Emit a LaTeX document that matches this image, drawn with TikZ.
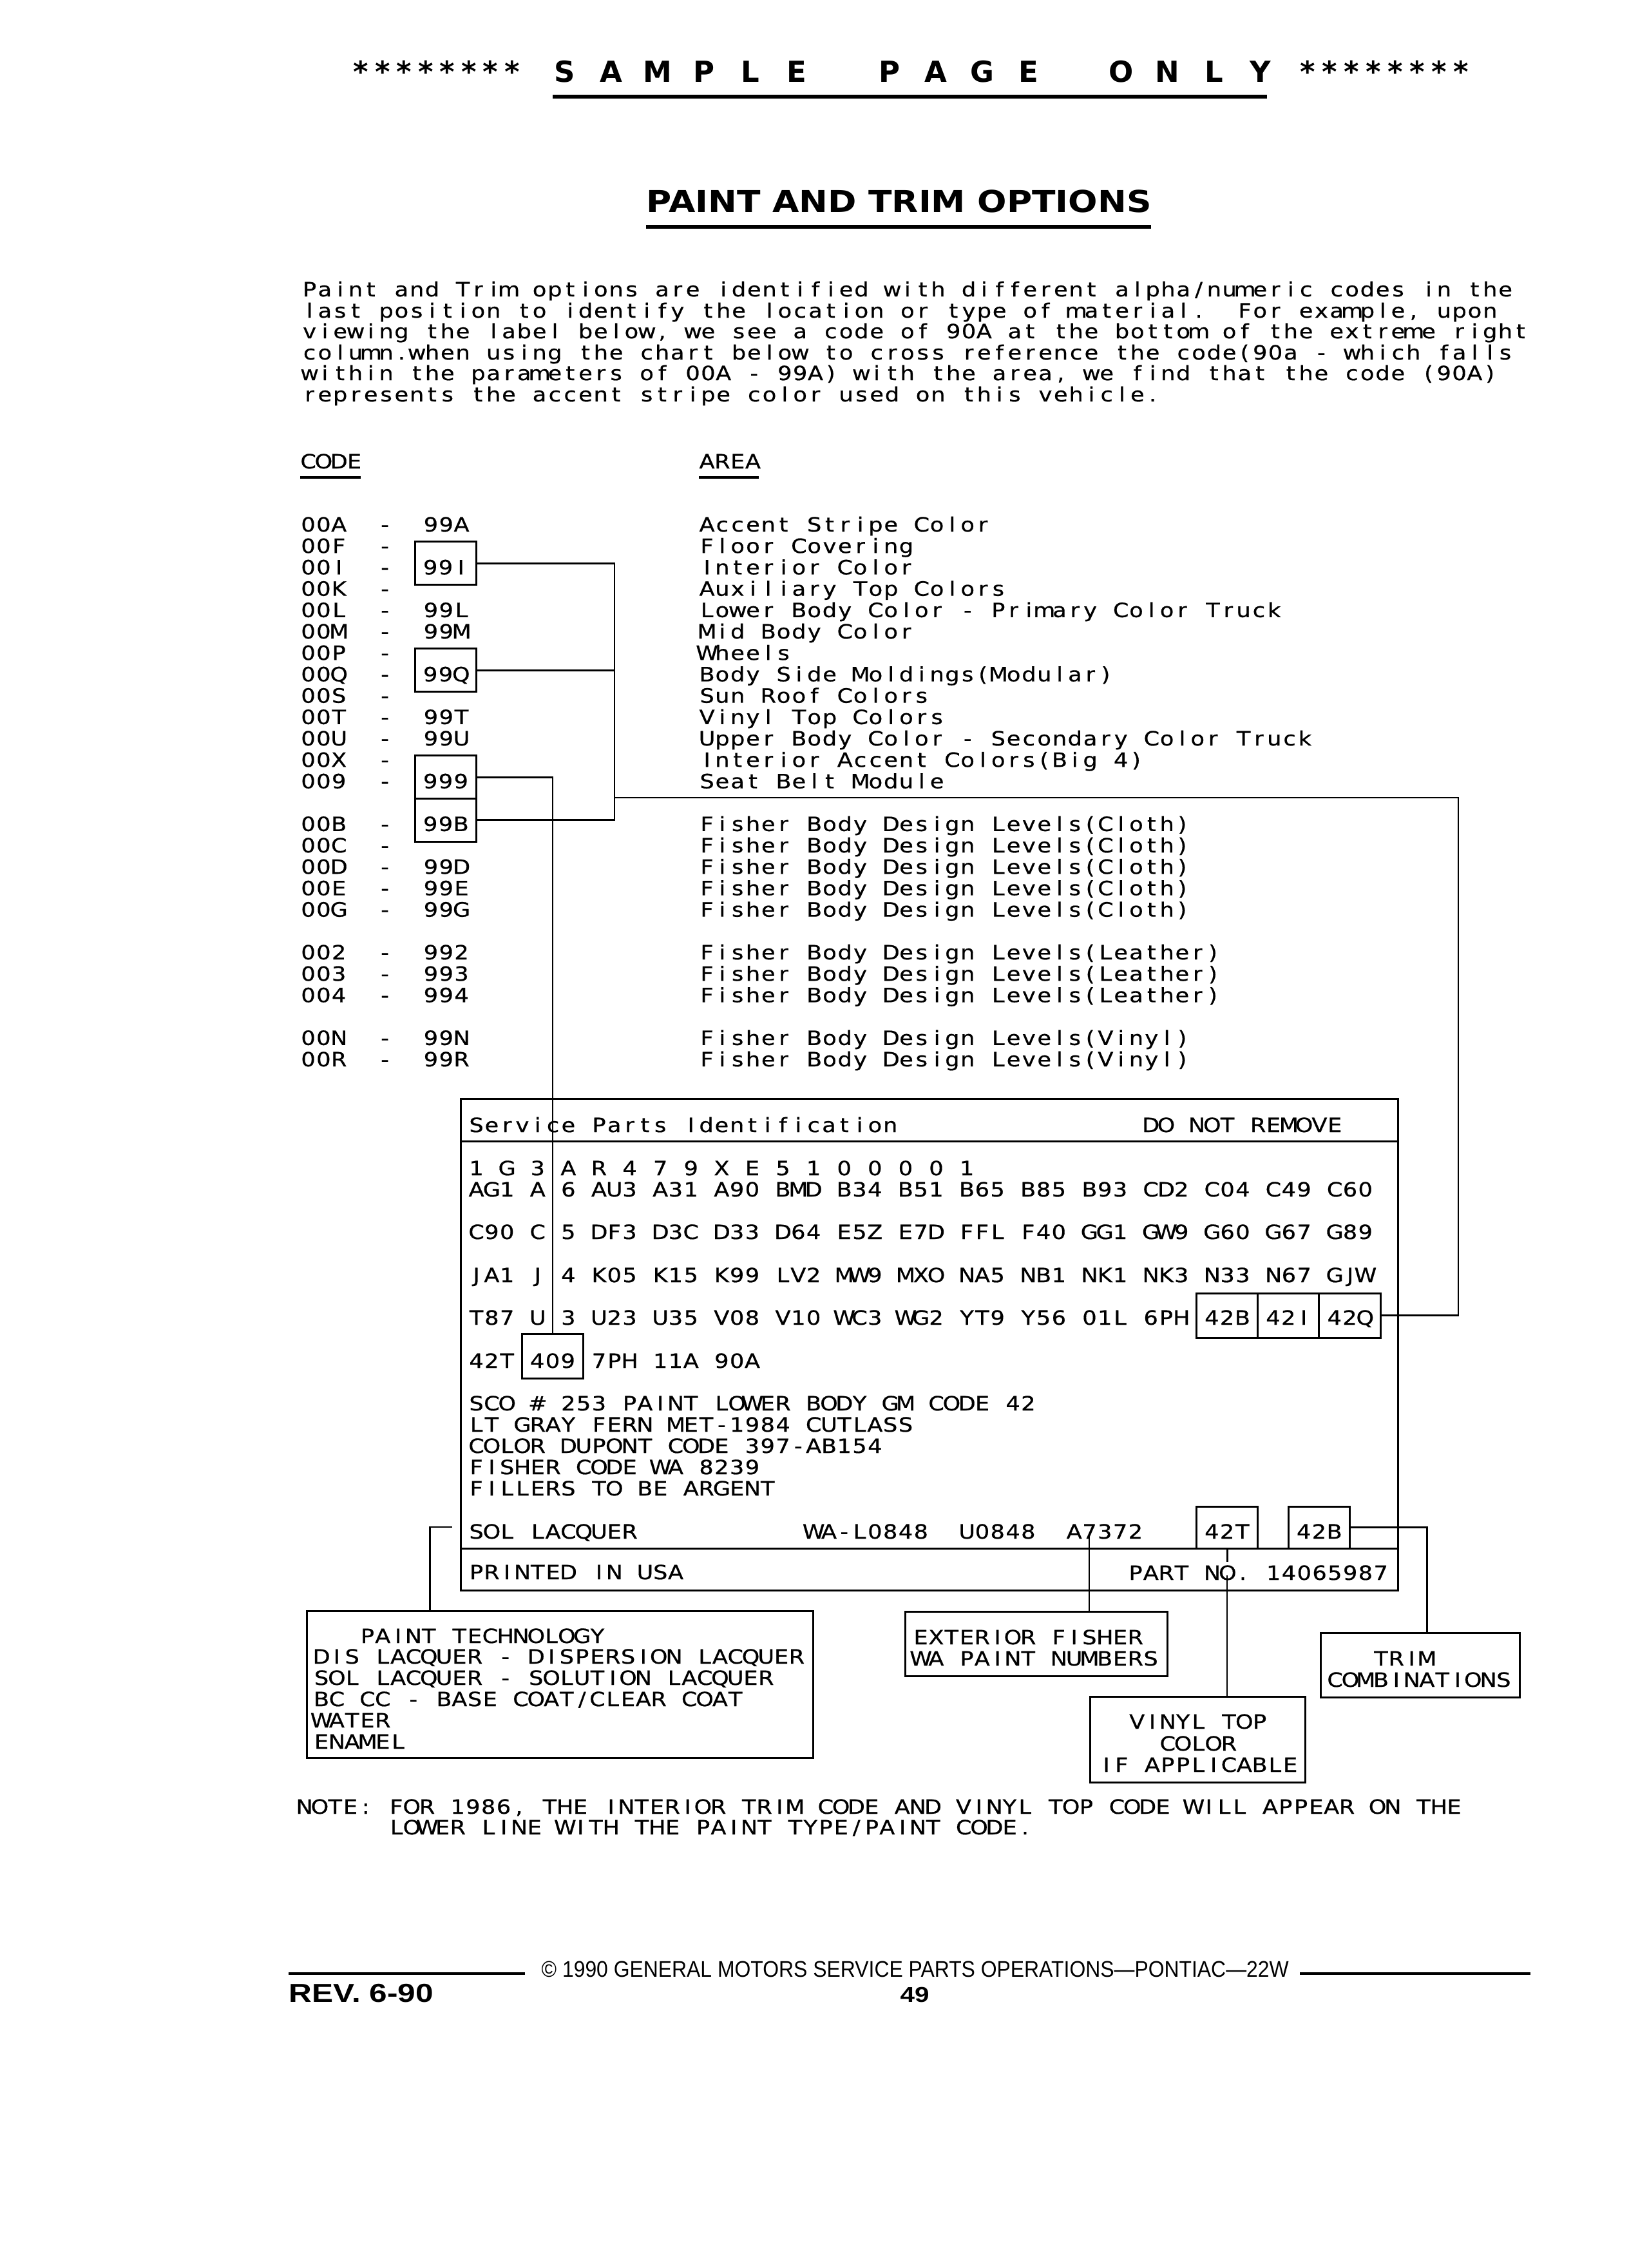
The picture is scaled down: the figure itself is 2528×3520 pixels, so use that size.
\documentclass[tikz,border=0pt]{standalone}
\usepackage{fontspec}
\usepackage{graphicx}
\setmainfont{DejaVu Sans}
\newfontfamily\dvs{DejaVu Sans}[FakeStretch=1.15,FakeBold=0.6]
\newfontfamily\dvsb{DejaVu Sans}
\newfontfamily\lsans{Liberation Sans}
\newcommand\bodyf{\dvs\fontsize{8.7pt}{9.8pt}\selectfont}
\newcommand\headf{\dvsb\bfseries\fontsize{12.8pt}{14pt}\selectfont}
\newcommand\titlef{\dvsb\bfseries\fontsize{13.3pt}{15pt}\selectfont}
\newcommand\footf{\lsans\fontsize{10pt}{12pt}\selectfont}
\newcommand\revf{\lsans\bfseries\fontsize{11.5pt}{13pt}\selectfont}
\newcommand\pgf{\lsans\bfseries\fontsize{9.5pt}{11pt}\selectfont}
\ExplSyntaxOn
\dim_new:N \l__rk_pitch_dim
\NewDocumentCommand \gridtext { O{2.38mm} m }
  {
    \dim_set:Nn \l__rk_pitch_dim {#1}
    \str_map_inline:nn {#2}
      {
        \str_case:nnF {##1}
          {
            {_} { \hspace*{\l__rk_pitch_dim} }
            {@} { \makebox[\l__rk_pitch_dim][c]{\#} }
          }
          { \makebox[\l__rk_pitch_dim][c]{##1} }
      }
  }
\ExplSyntaxOff
\begin{document}
\begin{tikzpicture}[x=0.1mm, y=-0.1mm,
  txt/.style={anchor=base west, inner sep=0pt, font=\bodyf},
  bigtxt/.style={anchor=base west, inner sep=0pt},
  cbox/.style={draw, line width=0.3mm, inner sep=0pt, minimum width=9.52mm, anchor=base, font=\bodyf},
  frame/.style={draw, line width=0.3mm, inner sep=0pt, anchor=north west},
  conn/.style={line width=0.28mm}]
\fill[white] (0,0) rectangle (2528,3520);
\useasboundingbox (0,0) rectangle (2528,3520);

% ---------- header ----------
\node[bigtxt] (s1) at (543,127) {\headf\gridtext[3.35mm]{********}};
\node[bigtxt] (s2) at (858,127) {\headf\gridtext[3.6mm]{S A M P L E___P A G E___O N L Y}};
\node[bigtxt] (s3) at (2013,127) {\headf\gridtext[3.39mm]{********}};
\draw[line width=0.6mm] (858,150) -- (1967,150);
\node[bigtxt] (title) at (1003,329) {\titlef\resizebox{78.4mm}{\height}{PAINT AND TRIM OPTIONS}};
\draw[line width=0.65mm] (1003,352) -- (1787,352);

% ---------- paragraph ----------
\node[txt] (p1) at (468,460) {\gridtext{Paint and Trim options are identified with different alpha/numeric codes in the}};
\node[txt] (p2) at (468,493) {\gridtext{last position to identify the location or type of material.__For example, upon}};
\node[txt] (p3) at (468,525) {\gridtext{viewing the label below, we see a code of 90A at the bottom of the extreme right}};
\node[txt] (p4) at (468,558) {\gridtext{column.when using the chart below to cross reference the code(90a - which falls}};
\node[txt] (p5) at (468,590) {\gridtext{within the parameters of 00A - 99A) with the area, we find that the code (90A)}};
\node[txt] (p6) at (468,623) {\gridtext{represents the accent stripe color used on this vehicle.}};

% ---------- column heads ----------
\node[txt] (code) at (466,727) {\gridtext{CODE}};
\node[txt] (area) at (1085,727) {\gridtext{AREA}};
\draw[line width=0.4mm] (466,741) -- (560,741);
\draw[line width=0.45mm] (1085,741) -- (1178,741);

% ---------- code rows ----------
\node[txt] (c0) at (466,825) {\gridtext{00A__-__99A}};
\node[txt] (c1) at (466,858.2) {\gridtext{00F__-}};
\node[txt] (c2) at (466,891.4) {\gridtext{00I__-}};
\node[txt] (c3) at (466,924.6) {\gridtext{00K__-}};
\node[txt] (c4) at (466,957.8) {\gridtext{00L__-__99L}};
\node[txt] (c5) at (466,991.0) {\gridtext{00M__-__99M}};
\node[txt] (c6) at (466,1024.2) {\gridtext{00P__-}};
\node[txt] (c7) at (466,1057.4) {\gridtext{00Q__-}};
\node[txt] (c8) at (466,1090.6) {\gridtext{00S__-}};
\node[txt] (c9) at (466,1123.8) {\gridtext{00T__-__99T}};
\node[txt] (c10) at (466,1157.0) {\gridtext{00U__-__99U}};
\node[txt] (c11) at (466,1190.2) {\gridtext{00X__-}};
\node[txt] (c12) at (466,1223.4) {\gridtext{009__-}};
\node[txt] (c14) at (466,1289.8) {\gridtext{00B__-}};
\node[txt] (c15) at (466,1323.0) {\gridtext{00C__-}};
\node[txt] (c16) at (466,1356.2) {\gridtext{00D__-__99D}};
\node[txt] (c17) at (466,1389.4) {\gridtext{00E__-__99E}};
\node[txt] (c18) at (466,1422.6) {\gridtext{00G__-__99G}};
\node[txt] (c20) at (466,1489.0) {\gridtext{002__-__992}};
\node[txt] (c21) at (466,1522.2) {\gridtext{003__-__993}};
\node[txt] (c22) at (466,1555.4) {\gridtext{004__-__994}};
\node[txt] (c24) at (466,1621.8) {\gridtext{00N__-__99N}};
\node[txt] (c25) at (466,1655.0) {\gridtext{00R__-__99R}};

\node[cbox, text height=5.05mm, text depth=1.65mm] (b99I) at (692,891.4) {\gridtext{99I}};
\node[cbox, text height=5.05mm, text depth=1.65mm] (b99Q) at (692,1057.4) {\gridtext{99Q}};
\node[cbox, text height=5.05mm, text depth=1.65mm] (b999) at (692,1223.4) {\gridtext{999}};
\node[cbox, text height=5.05mm, text depth=1.65mm] (b99B) at (692,1289.8) {\gridtext{99B}};

% ---------- area rows ----------
\node[txt] (a0) at (1085,825) {\gridtext{Accent Stripe Color}};
\node[txt] (a1) at (1085,858.2) {\gridtext{Floor Covering}};
\node[txt] (a2) at (1085,891.4) {\gridtext{Interior Color}};
\node[txt] (a3) at (1085,924.6) {\gridtext{Auxiliary Top Colors}};
\node[txt] (a4) at (1085,957.8) {\gridtext{Lower Body Color - Primary Color Truck}};
\node[txt] (a5) at (1085,991.0) {\gridtext{Mid Body Color}};
\node[txt] (a6) at (1085,1024.2) {\gridtext{Wheels}};
\node[txt] (a7) at (1085,1057.4) {\gridtext{Body Side Moldings(Modular)}};
\node[txt] (a8) at (1085,1090.6) {\gridtext{Sun Roof Colors}};
\node[txt] (a9) at (1085,1123.8) {\gridtext{Vinyl Top Colors}};
\node[txt] (a10) at (1085,1157.0) {\gridtext{Upper Body Color - Secondary Color Truck}};
\node[txt] (a11) at (1085,1190.2) {\gridtext{Interior Accent Colors(Big 4)}};
\node[txt] (a12) at (1085,1223.4) {\gridtext{Seat Belt Module}};
\node[txt] (a14) at (1085,1289.8) {\gridtext{Fisher Body Design Levels(Cloth)}};
\node[txt] (a15) at (1085,1323.0) {\gridtext{Fisher Body Design Levels(Cloth)}};
\node[txt] (a16) at (1085,1356.2) {\gridtext{Fisher Body Design Levels(Cloth)}};
\node[txt] (a17) at (1085,1389.4) {\gridtext{Fisher Body Design Levels(Cloth)}};
\node[txt] (a18) at (1085,1422.6) {\gridtext{Fisher Body Design Levels(Cloth)}};
\node[txt] (a20) at (1085,1489.0) {\gridtext{Fisher Body Design Levels(Leather)}};
\node[txt] (a21) at (1085,1522.2) {\gridtext{Fisher Body Design Levels(Leather)}};
\node[txt] (a22) at (1085,1555.4) {\gridtext{Fisher Body Design Levels(Leather)}};
\node[txt] (a24) at (1085,1621.8) {\gridtext{Fisher Body Design Levels(Vinyl)}};
\node[txt] (a25) at (1085,1655.0) {\gridtext{Fisher Body Design Levels(Vinyl)}};

% ---------- label ----------
\node[frame, minimum width=145.5mm, minimum height=76.3mm] (label) at (714,1704) {};
\draw[line width=0.3mm] (714,1771) -- (2169,1771);
\draw[line width=0.3mm] (714,2403) -- (2169,2403);
\node[txt] (lh1) at (727,1757) {\gridtext{Service Parts Identification}};
\node[txt] (lh2) at (1774,1757) {\gridtext{DO NOT REMOVE}};
\node[txt] (r1) at (727,1824) {\gridtext{1 G 3 A R 4 7 9 X E 5 1 0 0 0 0 1}};
\node[txt] (r2) at (727,1857) {\gridtext{AG1 A 6 AU3 A31 A90 BMD B34 B51 B65 B85 B93 CD2 C04 C49 C60}};
\node[txt] (r3) at (727,1923) {\gridtext{C90 C 5 DF3 D3C D33 D64 E5Z E7D FFL F40 GG1 GW9 G60 G67 G89}};
\node[txt] (r4) at (727,1990) {\gridtext{JA1 J 4 K05 K15 K99 LV2 MW9 MXO NA5 NB1 NK1 NK3 N33 N67 GJW}};
\node[txt] (r5) at (727,2056) {\gridtext{T87 U 3 U23 U35 V08 V10 WC3 WG2 YT9 Y56 01L 6PH}};
\node[cbox, text height=4.9mm, text depth=2.0mm] (b42B) at (1905.1,2056) {\gridtext{42B}};
\node[cbox, text height=4.9mm, text depth=2.0mm] (b42I) at (2000.3,2056) {\gridtext{42I}};
\node[cbox, text height=4.9mm, text depth=2.0mm] (b42Q) at (2095.5,2056) {\gridtext{42Q}};
\node[txt] (r6a) at (727,2123) {\gridtext{42T}};
\node[cbox, text height=5.3mm, text depth=1.6mm] (b409) at (858,2123) {\gridtext{409}};
\node[txt] (r6b) at (917.4,2123) {\gridtext{7PH 11A 90A}};
\node[txt] (m1) at (727,2189) {\gridtext{SCO @ 253 PAINT LOWER BODY GM CODE 42}};
\node[txt] (m2) at (727,2222) {\gridtext{LT GRAY FERN MET-1984 CUTLASS}};
\node[txt] (m3) at (727,2255) {\gridtext{COLOR DUPONT CODE 397-AB154}};
\node[txt] (m4) at (727,2288) {\gridtext{FISHER CODE WA 8239}};
\node[txt] (m5) at (727,2321) {\gridtext{FILLERS TO BE ARGENT}};
\node[txt] (sol) at (727,2388) {\gridtext{SOL LACQUER___________WA-L0848__U0848__A7372}};
\node[cbox, text height=5.0mm, text depth=1.5mm] (b42T) at (1905.1,2388) {\gridtext{42T}};
\node[cbox, text height=5.0mm, text depth=1.5mm] (b42Bb) at (2047.9,2388) {\gridtext{42B}};
\node[txt] (prn) at (727,2451) {\gridtext{PRINTED IN USA}};
\node[txt] (part) at (1750.4,2452) {\gridtext{PART NO. 14065987}};

% ---------- callout boxes ----------
\node[frame, minimum width=78.6mm, minimum height=22.8mm] (ptbox) at (475,2499) {};
\node[txt] (pt1) at (486.5,2550) {\gridtext{___PAINT TECHNOLOGY}};
\node[txt] (pt2) at (486.5,2582) {\gridtext{DIS LACQUER - DISPERSION LACQUER}};
\node[txt] (pt3) at (486.5,2615) {\gridtext{SOL LACQUER - SOLUTION LACQUER}};
\node[txt] (pt4) at (486.5,2648) {\gridtext{BC CC - BASE COAT/CLEAR COAT}};
\node[txt] (pt5) at (486.5,2681) {\gridtext{WATER}};
\node[txt] (pt6) at (486.5,2714) {\gridtext{ENAMEL}};

\node[frame, minimum width=40.7mm, minimum height=10.0mm] (exbox) at (1404,2500) {};
\node[txt] (ex1) at (1417,2552) {\gridtext{EXTERIOR FISHER}};
\node[txt] (ex2) at (1417,2585) {\gridtext{WA PAINT NUMBERS}};

\node[frame, minimum width=33.4mm, minimum height=13.3mm] (vibox) at (1691,2632) {};
\node[txt] (vi1) at (1705,2683) {\gridtext{__VINYL TOP}};
\node[txt] (vi2) at (1705,2717) {\gridtext{____COLOR}};
\node[txt] (vi3) at (1705,2750) {\gridtext{IF APPLICABLE}};

\node[frame, minimum width=30.9mm, minimum height=10.0mm] (trbox) at (2049,2533) {};
\node[txt] (tr1) at (2060,2585) {\gridtext{___TRIM}};
\node[txt] (tr2) at (2060,2618) {\gridtext{COMBINATIONS}};

% ---------- connectors ----------
\coordinate (tr) at (954,1238);
\coordinate (rt) at (2264,1238);
\draw[conn] (b99I.east) -| (tr);
\draw[conn] (b99Q.east) -- (b99Q.east -| tr);
\draw[conn] (b99B.east) -| (tr);
\draw[conn] (tr) -- (rt) |- (b42Q.east);
\draw[conn] (b999.east) -| (b409.north);

\coordinate (pta) at (702,2370);
\draw[conn] (pta) -| ([xshift=-20.2mm]ptbox.north);
\coordinate (exa) at (1691,2382);
\draw[conn] (exa) -- (exa |- exbox.north);
\draw[conn] (b42T.south) -- ++(0,19);
\coordinate (via) at (1905,2445);
\draw[conn] (via) -- (via |- vibox.north);
\draw[conn] (b42Bb.east) -| ([xshift=1.05mm]trbox.north);

% ---------- note ----------
\node[txt] (n1) at (460,2815) {\gridtext{NOTE: FOR 1986, THE INTERIOR TRIM CODE AND VINYL TOP CODE WILL APPEAR ON THE}};
\node[txt] (n2) at (603,2847) {\gridtext{LOWER LINE WITH THE PAINT TYPE/PAINT CODE.}};

% ---------- footer ----------
\draw[line width=0.45mm] (448,3063) -- (815,3063);
\draw[line width=0.45mm] (2018,3063) -- (2376,3063);
\node[bigtxt] (copy) at (840,3068) {\footf\resizebox{116mm}{\height}{© 1990 GENERAL MOTORS SERVICE PARTS OPERATIONS—PONTIAC—22W}};
\node[bigtxt] (rev) at (448,3107) {\revf\resizebox{22.4mm}{\height}{REV. 6-90}};
\node[bigtxt] (pg) at (1397,3107) {\pgf\resizebox{4.5mm}{\height}{49}};
\end{tikzpicture}
\end{document}
